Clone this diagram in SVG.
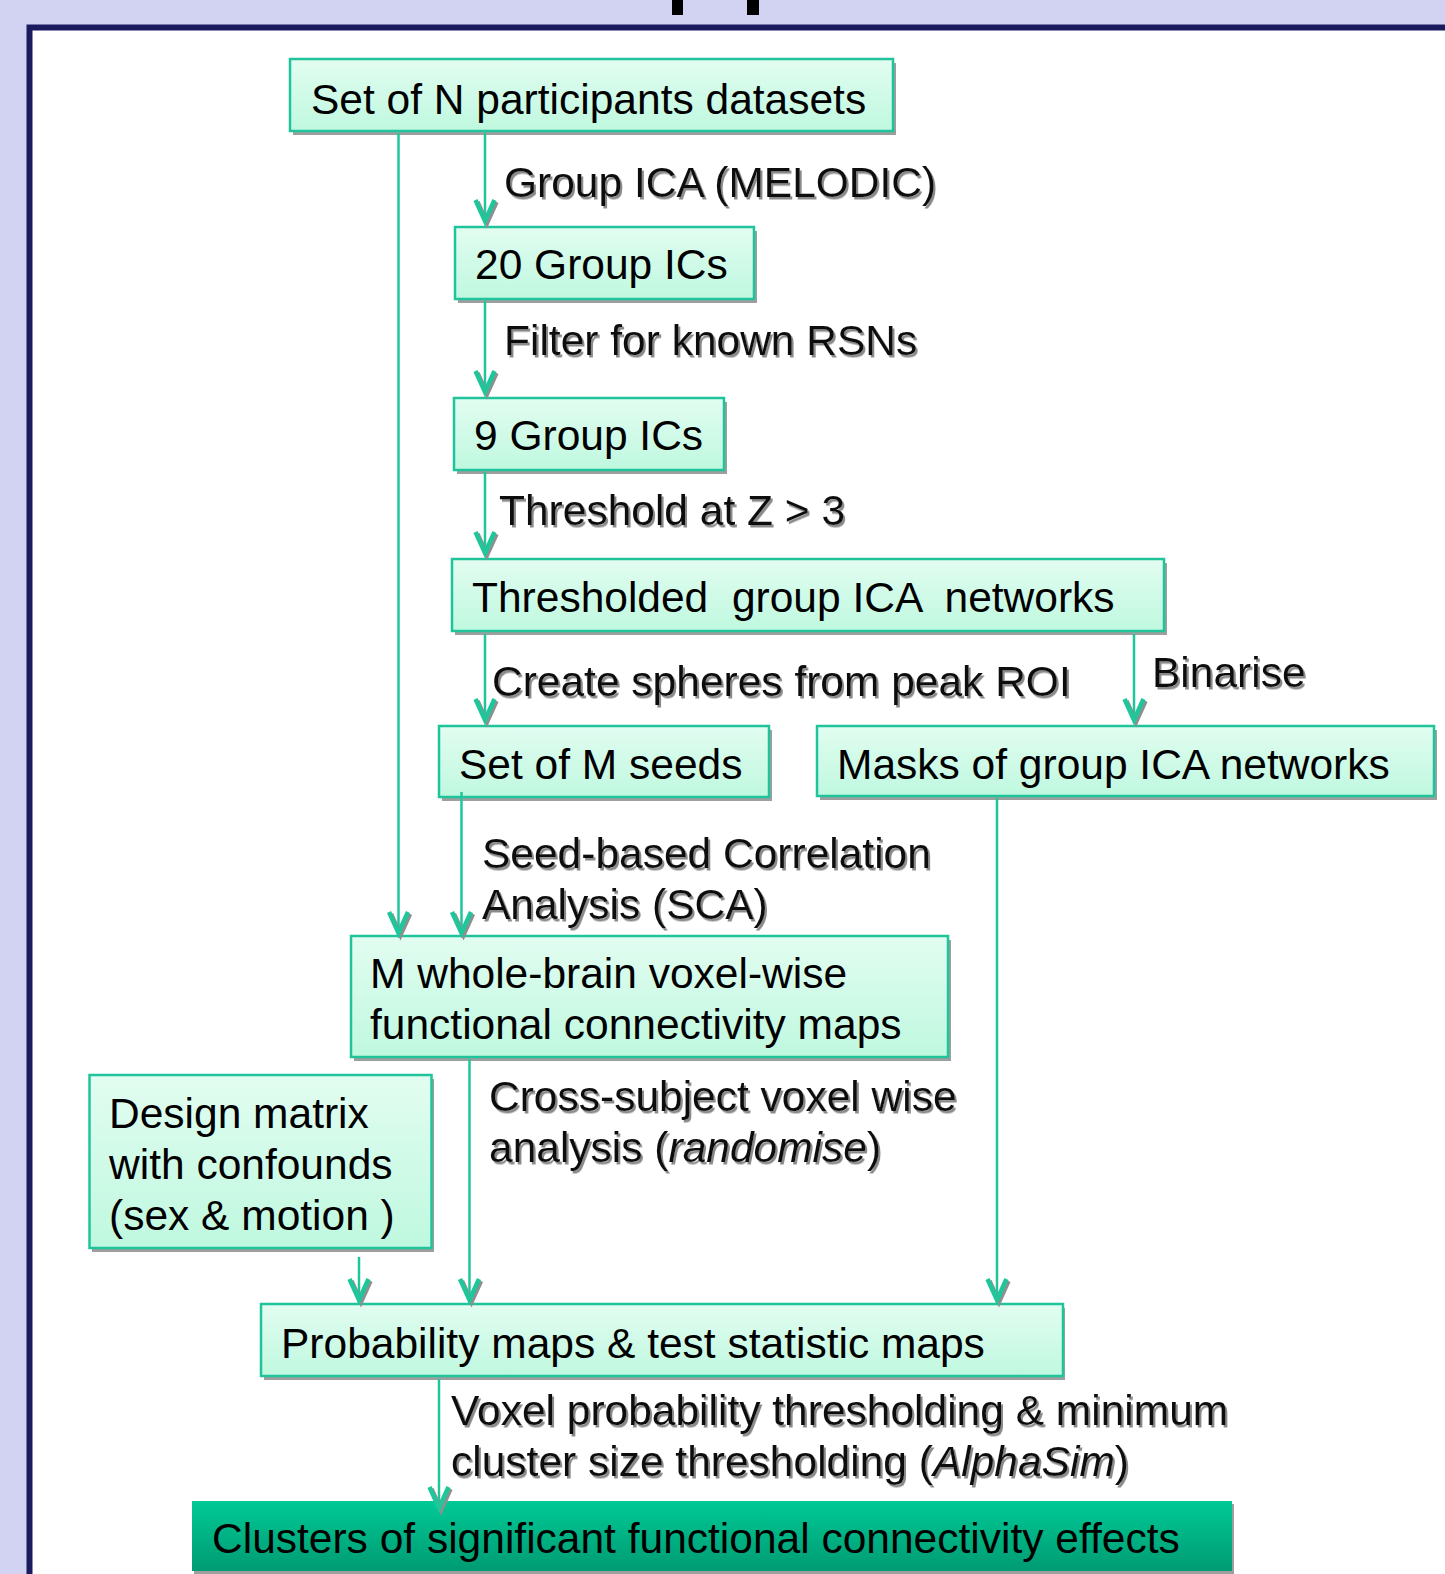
<svg xmlns="http://www.w3.org/2000/svg" width="1445" height="1574" viewBox="0 0 1445 1574">
<style>
.box{fill:url(#g);stroke:#20c49a;stroke-width:2.5}
.dark{fill:url(#gd)}
.sh{fill:#9e9e9e}
.t{font-family:"Liberation Sans",Arial,sans-serif;font-size:42.5px;fill:#000;white-space:pre}
.lb{font-family:"Liberation Sans",Arial,sans-serif;font-size:42.5px;fill:#111;filter:url(#ts)}
.c{stroke:#1fc69a;stroke-width:2.5;fill:none;marker-end:url(#ah)}
</style>
<defs>
<linearGradient id="g" x1="0" y1="0" x2="0" y2="1">
<stop offset="0" stop-color="#e2fdf1"/>
<stop offset="1" stop-color="#bff8df"/>
</linearGradient>
<linearGradient id="gd" x1="0" y1="0" x2="0" y2="1">
<stop offset="0" stop-color="#00c996"/>
<stop offset="1" stop-color="#009b72"/>
</linearGradient>
<filter id="ts" x="-5%" y="-20%" width="110%" height="150%">
<feDropShadow dx="2" dy="2.5" stdDeviation="0.6" flood-color="#8a8a8a" flood-opacity="1"/>
</filter>
<marker id="ah" markerUnits="userSpaceOnUse" markerWidth="40" markerHeight="40" viewBox="-30 -20 40 40" refX="0" refY="0" orient="auto" overflow="visible">
<path d="M -21 -9.5 L 0 0 L -21 9.5" transform="translate(2,-2)" fill="none" stroke="#8f8f8f" stroke-width="4.5"/>
<path d="M -21 -9.5 L 0 0 L -21 9.5" fill="none" stroke="#1fc69a" stroke-width="4.5"/>
</marker>
</defs>
<rect x="0" y="0" width="1445" height="1574" fill="#d2d2f2"/>
<rect x="672" y="0" width="11" height="15" fill="#000"/>
<rect x="747" y="0" width="12" height="15" fill="#000"/>
<rect x="29.5" y="27.5" width="1440" height="1560" fill="#fff" stroke="#1b1a5e" stroke-width="6"/>

<g id="n1">
<rect class="sh" x="293" y="63" width="603" height="72"/>
<rect class="box" x="290" y="59" width="603" height="72"/>
<text class="t" x="311" y="113.5">Set of N participants datasets</text>
</g>
<g id="n2">
<rect class="sh" x="458" y="231" width="299" height="72"/>
<rect class="box" x="455" y="227" width="299" height="72"/>
<text class="t" x="475" y="279">20 Group ICs</text>
</g>
<g id="n3">
<rect class="sh" x="457" y="402" width="270" height="72"/>
<rect class="box" x="454" y="398" width="270" height="72"/>
<text class="t" x="474" y="450">9 Group ICs</text>
</g>
<g id="n4">
<rect class="sh" x="455" y="563" width="712" height="72"/>
<rect class="box" x="452" y="559" width="712" height="72"/>
<text class="t" x="472" y="612">Thresholded  group ICA  networks</text>
</g>
<g id="n5">
<rect class="sh" x="442" y="730" width="330" height="71"/>
<rect class="box" x="439" y="726" width="330" height="71"/>
<text class="t" x="459" y="779">Set of M seeds</text>
</g>
<g id="n6">
<rect class="sh" x="820" y="730" width="617" height="70"/>
<rect class="box" x="817" y="726" width="617" height="70"/>
<text class="t" x="837" y="779">Masks of group ICA networks</text>
</g>
<g id="n7">
<rect class="sh" x="354" y="940" width="597" height="121"/>
<rect class="box" x="351" y="936" width="597" height="121"/>
<text class="t" x="370" y="988">M whole-brain voxel-wise</text>
<text class="t" x="370" y="1039">functional connectivity maps</text>
</g>
<g id="n8">
<rect class="sh" x="92" y="1079" width="342" height="173"/>
<rect class="box" x="89.5" y="1075" width="342" height="173"/>
<text class="t" x="109" y="1128">Design matrix</text>
<text class="t" x="109" y="1179">with confounds</text>
<text class="t" x="109" y="1230">(sex &amp; motion )</text>
</g>
<g id="n9">
<rect class="sh" x="264" y="1308" width="801" height="72"/>
<rect class="box" x="261" y="1304" width="802" height="72"/>
<text class="t" x="281" y="1358">Probability maps &amp; test statistic maps</text>
</g>
<g id="n10">
<rect class="sh" x="194" y="1504" width="1040" height="72"/>
<rect class="dark" x="192" y="1501" width="1040" height="70"/>
<text class="t" x="212" y="1553">Clusters of significant functional connectivity effects</text>
</g>

<g id="connectors">
<line class="c" x1="398.5" y1="133" x2="398.5" y2="933"/>
<line class="c" x1="485" y1="133" x2="485" y2="221"/>
<line class="c" x1="485" y1="301" x2="485" y2="392"/>
<line class="c" x1="485" y1="472" x2="485" y2="553"/>
<line class="c" x1="485" y1="634" x2="485" y2="720"/>
<line class="c" x1="1134" y1="634" x2="1134" y2="720"/>
<line class="c" x1="461.5" y1="792" x2="461.5" y2="933"/>
<line class="c" x1="469.5" y1="1059" x2="469.5" y2="1300"/>
<line class="c" x1="997" y1="798" x2="997" y2="1300"/>
<line class="c" x1="359" y1="1257" x2="359" y2="1300"/>
<line class="c" x1="439" y1="1379" x2="439" y2="1508"/>
</g>

<g id="labels">
<text class="lb" x="504" y="197">Group ICA (MELODIC)</text>
<text class="lb" x="504" y="355">Filter for known RSNs</text>
<text class="lb" x="499" y="525">Threshold at Z &gt; 3</text>
<text class="lb" x="492" y="696">Create spheres from peak ROI</text>
<text class="lb" x="1152" y="687">Binarise</text>
<text class="lb" x="482" y="868">Seed-based Correlation</text>
<text class="lb" x="482" y="919">Analysis (SCA)</text>
<text class="lb" x="489" y="1111">Cross-subject voxel wise</text>
<text class="lb" x="489" y="1162">analysis (<tspan font-style="italic">randomise</tspan>)</text>
<text class="lb" x="451" y="1425">Voxel probability thresholding &amp; minimum</text>
<text class="lb" x="451" y="1476">cluster size thresholding (<tspan font-style="italic">AlphaSim</tspan>)</text>
</g>
</svg>
